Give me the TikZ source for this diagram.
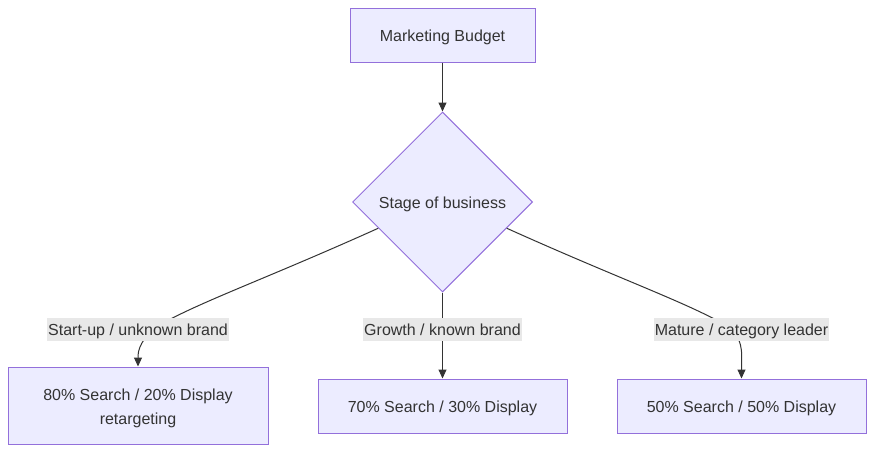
\documentclass[tikz,border=0pt]{standalone}
\usepackage{fontspec}
\setmainfont{Liberation Sans}
\usetikzlibrary{shapes.geometric,arrows.meta,calc}
\definecolor{nodefill}{HTML}{ECECFF}
\definecolor{nodeline}{HTML}{9370DB}
\definecolor{edgecol}{HTML}{333333}
\definecolor{labelbg}{HTML}{E8E8E8}
\definecolor{txt}{HTML}{333333}
\begin{document}
\begin{tikzpicture}[x=1pt,y=-1pt,
  every node/.style={font=\fontsize{16}{24}\selectfont, text=txt},
  boxnode/.style={draw=nodeline, fill=nodefill, line width=1pt, rectangle, inner sep=0pt, align=center, text height=13pt, text depth=1pt},
  dianode/.style={draw=nodeline, fill=nodefill, line width=1pt, diamond, aspect=1, inner sep=0pt, minimum width=180pt, minimum height=180pt, text height=13pt, text depth=1pt},
  edge/.style={draw=edgecol, line width=1pt, -{Triangle[length=9pt,width=8pt]}},
  elabel/.style={fill=labelbg, inner sep=1pt, text height=14pt, text depth=2pt, minimum height=23pt}
]
\useasboundingbox (0,0) rectangle (875,453);
\node[boxnode, minimum width=185pt, minimum height=54pt] (mb) at (442.5,35) {Marketing Budget};
\node[dianode] (st) at (442.5,202) {Stage of business};
\node[boxnode, minimum width=260pt, minimum height=77pt, text height=38pt, text depth=1pt] (a) at (138,405.5) {80\% Search / 20\% Display\\retargeting};
\node[boxnode, minimum width=249pt, minimum height=54pt] (b) at (442.5,406) {70\% Search / 30\% Display};
\node[boxnode, minimum width=249pt, minimum height=54pt] (c) at (741.5,406) {50\% Search / 50\% Display};

\draw[edge] (mb.south) -- (st.north);

\coordinate (sl) at ($(st.west)!0.29!(st.south)$);
\coordinate (sr) at ($(st.east)!0.29!(st.south)$);
\coordinate (ml) at (163,323);
\coordinate (mr) at (722,323);

\draw[edge] (sl) .. controls (270,277) and (205,300) .. (ml) .. controls (140,338) and (138,350) .. (a.north);
\draw[edge] (sr) .. controls (615,277) and (680,300) .. (mr) .. controls (745,338) and (741.5,350) .. (c.north);
\draw[edge] (st.south) -- (b.north);

\node[elabel] (la) at (138,329.5) {Start-up / unknown brand};
\node[elabel] (lb) at (442.5,329.5) {Growth / known brand};
\node[elabel] (lc) at (741.5,329.5) {Mature / category leader};
\end{tikzpicture}
\end{document}
